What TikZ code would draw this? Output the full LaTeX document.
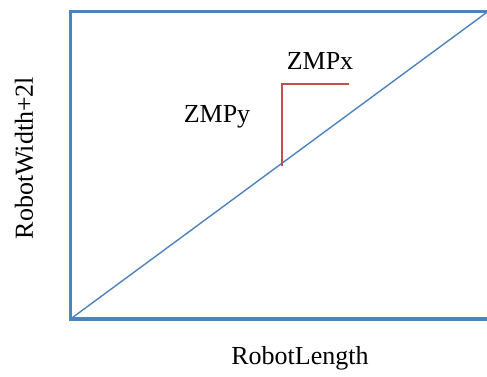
\documentclass[tikz,border=0pt]{standalone}
\usepackage{fontspec}
\setmainfont{Liberation Serif}
\definecolor{frameblue}{HTML}{4F81BD}
\definecolor{zmpred}{HTML}{C0504D}
\tikzset{
  frame/.style={draw=frameblue, line width=3.8pt, line join=miter},
  diag/.style={draw=frameblue, line width=1.4pt},
  zmp/.style={draw=zmpred, line width=2.5pt},
  lbl/.style={font=\fontsize{26}{29}\selectfont, inner sep=0pt, text=black}
}
\begin{document}
\begin{tikzpicture}[x=1pt,y=-1pt]
\useasboundingbox (0,0) rectangle (487,376);
\clip (0,0) rectangle (487,376);
\coordinate (TR) at (495,11.5);
\coordinate (TL) at (70.5,11.5);
\coordinate (BL) at (70.5,319);
\coordinate (BR) at (495,319);
\coordinate (DE) at (490,10);
\coordinate (R0) at (282,166);
\coordinate (R1) at (282,84);
\coordinate (R2) at (349,84);
\draw[frame] (TR) -- (TL) -- (BL) -- (BR);
\draw[diag] (BL) -- (DE);
\draw[zmp] (R0) -- (R1) -- (R2);
\node[lbl] (zx) at (320,61) {ZMPx};
\node[lbl] (zy) at (217,117) {ZMPy};
\node[lbl] (rl) at (300,358) {RobotLength};
\node[lbl, rotate=90] (rw) at (24,158) {RobotWidth+2l};
\end{tikzpicture}
\end{document}
